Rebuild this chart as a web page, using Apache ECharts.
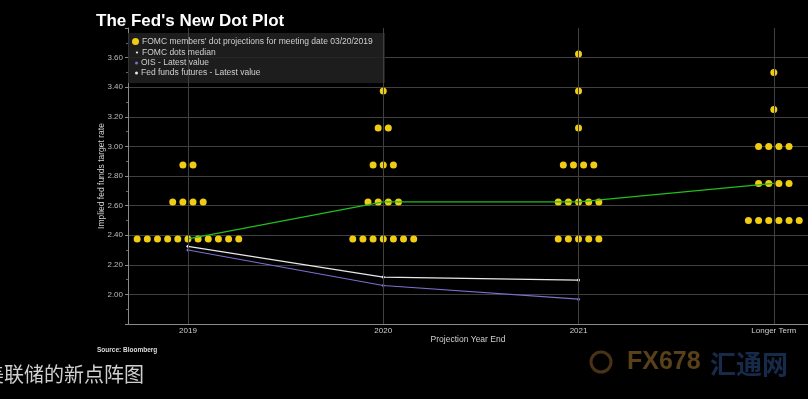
<!DOCTYPE html>
<html>
<head>
<meta charset="utf-8">
<script src="https://cdn.jsdelivr.net/npm/echarts@6/dist/echarts.min.js"></script>
<style>
  html, body { margin: 0; padding: 0; background: #000; }
  #chart { width: 808px; height: 399px; }
</style>
</head>
<body>
<div id="chart"></div>
<script>
// categories on the x axis
const categories = ['2019', '2020', '2021', 'Longer Term'];

// FOMC dots: [rate, number of members] per projection year
const dots2019 = [[2.375, 11], [2.625, 4], [2.875, 2]];
const dots2020 = [[2.375, 7], [2.625, 4], [2.875, 3], [3.125, 2], [3.375, 1]];
const dots2021 = [[2.375, 5], [2.625, 5], [2.875, 4], [3.125, 1], [3.375, 1], [3.625, 1]];
const dotsLonger = [[2.5, 6], [2.75, 4], [3.0, 4], [3.25, 1], [3.5, 1]];

// lines
const medianRates = [2.375, 2.625, 2.625, 2.75];
const oisRates = [2.30, 2.06, 1.968];
const futuresRates = [2.325, 2.117, 2.097];

const YELLOW = '#f0cc14';
const GREEN = '#1fbf1f';
const PURPLE = '#7b6fd0';
const WHITE = '#e8e8e8';
const GRIDLINE = '#404040';
const TEXT = '#cfcfcf';
const FONT = '"Liberation Sans", Arial, sans-serif';

/*把每个水平的点横向排开*/
const dotStep = 0.052;
const spreadDots = (catIndex, levels) => {
  const out = [];
  levels.forEach(([rate, count]) => {
    for (let j = 0; j < count; j++) {
      out.push([catIndex + (j - (count - 1) / 2) * dotStep, rate]);
    }
  });
  return out;
};
const dotData = [].concat(
  spreadDots(0, dots2019),
  spreadDots(1, dots2020),
  spreadDots(2, dots2021),
  spreadDots(3, dotsLonger)
);

const toPoints = arr => arr.map((v, i) => [i, v]);

const legendText = { color: TEXT, fontSize: 8.5, padding: [0, 0, 0, -2] };

const chart = echarts.init(document.getElementById('chart'));
chart.setOption({
  backgroundColor: '#000',
  animation: false,
  textStyle: { fontFamily: FONT },
  title: {
    text: "The Fed's New Dot Plot",
    left: 91,
    top: 8,
    textStyle: {
      color: '#fff',
      fontSize: 17,
      fontWeight: 'bold',
      fontFamily: FONT,
    },
  },
  legend: [
    {
      data: [{ name: "FOMC members' dot projections for meeting date 03/20/2019", icon: 'circle' }],
      left: 132, top: 37, itemWidth: 7, itemHeight: 7, padding: 0, z: 10,
      textStyle: legendText,
    },
    {
      data: [{ name: 'FOMC dots median', icon: 'emptyCircle',
        itemStyle: { color: '#222', borderColor: GREEN, borderWidth: 1 } }],
      left: 134, top: 48, itemWidth: 4, itemHeight: 4, padding: 0, z: 10,
      textStyle: legendText,
    },
    {
      data: [{ name: 'OIS - Latest value', icon: 'circle' }],
      left: 135, top: 58.5, itemWidth: 3, itemHeight: 3, padding: 0, z: 10,
      textStyle: legendText,
    },
    {
      data: [{ name: 'Fed funds futures - Latest value', icon: 'circle' }],
      left: 135, top: 68.5, itemWidth: 3, itemHeight: 3, padding: 0, z: 10,
      textStyle: legendText,
    },
  ],
  grid: { left: 128, right: 0, top: 28, bottom: 75 },
  xAxis: {
    type: 'value',
    min: -0.307,
    max: 3.175,
    name: 'Projection Year End',
    nameLocation: 'middle',
    nameGap: 11,
    nameMoveOverlap: false,
    nameTextStyle: { color: TEXT, fontSize: 8.5 },
    axisLine: { show: true, onZero: false, lineStyle: { color: '#8a8a8a' } },
    axisTick: { show: false },
    splitLine: { show: false },
    axisLabel: {
      customValues: [0, 1, 2, 3],
      formatter: v => categories[Math.round(v)],
      color: TEXT,
      fontSize: 8,
      margin: 3,
    },
  },
  yAxis: {
    type: 'value',
    min: 1.8,
    max: 3.8,
    interval: 0.2,
    name: 'Implied fed funds target rate',
    nameLocation: 'middle',
    nameGap: 22,
    nameMoveOverlap: false,
    nameTextStyle: { color: TEXT, fontSize: 8.5 },
    axisLine: { show: true, onZero: false, lineStyle: { color: '#8a8a8a' } },
    axisTick: { show: true, length: 3, lineStyle: { color: '#8a8a8a' } },
    minorTick: { show: true, splitNumber: 2, length: 2, lineStyle: { color: '#666' } },
    axisLabel: {
      color: '#bcbcbc',
      fontSize: 8,
      margin: 5,
      showMinLabel: false,
      showMaxLabel: false,
      formatter: v => v.toFixed(2),
    },
    splitLine: {
      show: true,
      showMinLine: false,
      showMaxLine: false,
      lineStyle: { color: GRIDLINE, width: 1 },
    },
  },
  graphic: [
    {
      type: 'rect',
      shape: { x: 128, y: 33, width: 257, height: 50 },
      style: { fill: 'rgba(34,34,34,0.85)' },
      z: 1,
    },
    {
      type: 'text',
      left: 97, top: 347,
      style: { text: 'Source: Bloomberg', fill: '#ddd', fontSize: 6.5, fontWeight: 'bold', fontFamily: FONT },
    },
    {
      type: 'text',
      left: -16, top: 364,
      style: { text: '美联储的新点阵图', fill: '#cfcfcf', fontSize: 20, fontFamily: '"Noto Sans CJK SC", sans-serif' },
    },
    {
      type: 'circle',
      shape: { cx: 601, cy: 362, r: 10 },
      style: { fill: 'none', stroke: '#4a3214', lineWidth: 3 },
    },
    {
      type: 'text',
      left: 627, top: 350,
      style: { text: 'FX678', fill: '#57401a', fontSize: 25, fontWeight: 'bold', fontFamily: '"Liberation Sans Narrow", "Liberation Sans", sans-serif' },
    },
    {
      type: 'text',
      left: 710, top: 351,
      style: { text: '汇通网', fill: '#172a4a', fontSize: 26, fontWeight: 'bold', fontFamily: '"Noto Sans CJK SC", sans-serif' },
    },
  ],
  series: [
    {
      name: 'gridX',
      type: 'line',
      data: [],
      silent: true,
      markLine: {
        silent: true,
        symbol: 'none',
        label: { show: false },
        lineStyle: { color: GRIDLINE, width: 1, type: 'solid' },
        data: categories.map((c, i) => ({ xAxis: i })),
      },
    },
    {
      name: "FOMC members' dot projections for meeting date 03/20/2019",
      type: 'scatter',
      symbolSize: 7,
      itemStyle: { color: YELLOW, opacity: 1 },
      data: dotData,
      z: 3,
    },
    {
      name: 'FOMC dots median',
      type: 'line',
      data: toPoints(medianRates),
      symbol: 'none',
      lineStyle: { color: GREEN, width: 1.3 },
      itemStyle: { color: GREEN },
      z: 4,
    },
    {
      name: 'OIS - Latest value',
      type: 'line',
      data: toPoints(oisRates),
      symbol: 'circle',
      symbolSize: 3,
      lineStyle: { color: PURPLE, width: 1.2 },
      itemStyle: { color: PURPLE },
      z: 4,
    },
    {
      name: 'Fed funds futures - Latest value',
      type: 'line',
      data: toPoints(futuresRates),
      symbol: 'circle',
      symbolSize: 3,
      lineStyle: { color: WHITE, width: 1.2 },
      itemStyle: { color: WHITE },
      z: 4,
    },
  ],
});
</script>
</body>
</html>
